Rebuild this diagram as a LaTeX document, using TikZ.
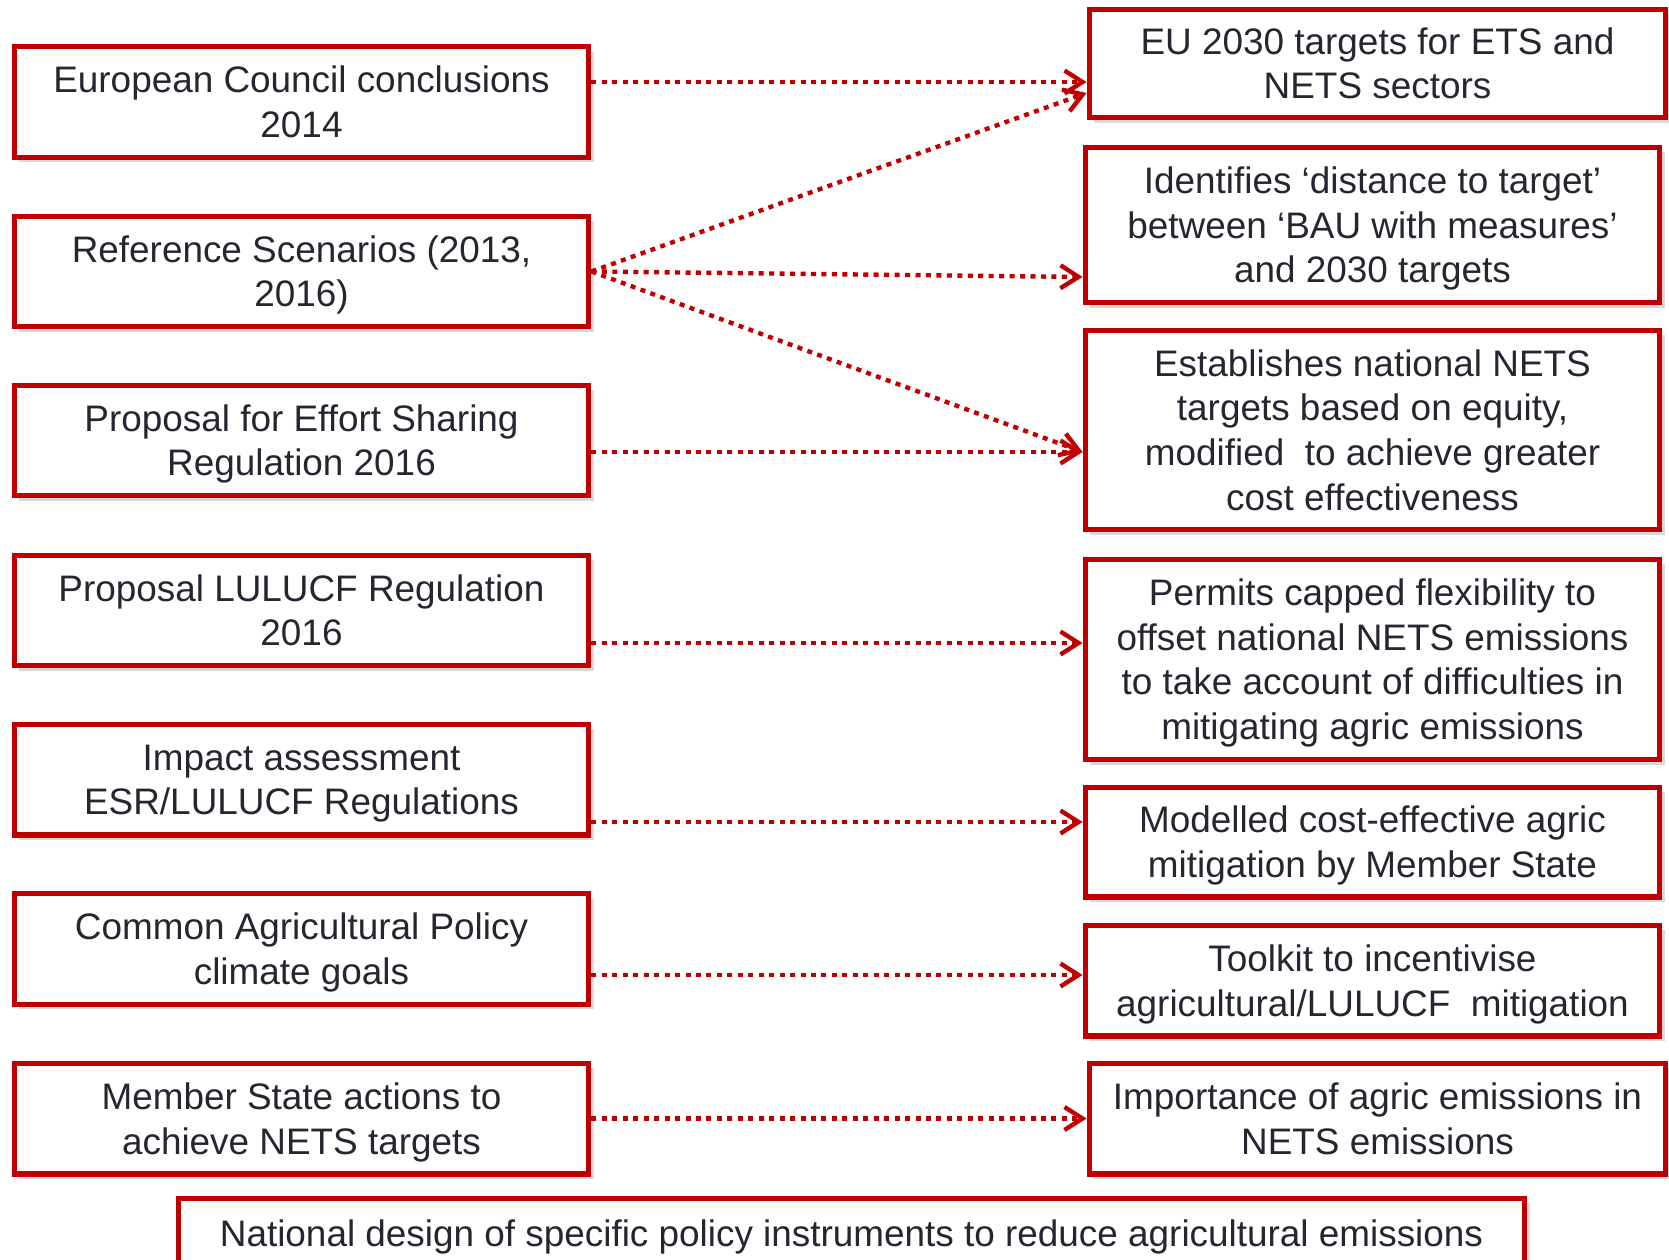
\documentclass[tikz,border=0pt]{standalone}
\usepackage{fontspec}
\setmainfont{Liberation Sans}
\usetikzlibrary{arrows.meta,shadows}
\definecolor{boxred}{RGB}{192,0,0}
\definecolor{inkgray}{RGB}{38,38,48}
\newcommand{\firstline}{\rule{0pt}{20pt}}
\newcommand{\lastline}{\rule[-5pt]{0pt}{5pt}}
\begin{document}
\begin{tikzpicture}[x=0.02cm, y=-0.02cm,
  box/.style={draw=boxred, line width=2.85pt, fill=white, text=inkgray, align=center,
    font=\fontsize{21}{25.4}\selectfont, inner sep=0pt,
    drop shadow={shadow xshift=1mm, shadow yshift=-1mm, opacity=0.25, fill=black!60}},
  leftbox/.style={box, minimum width=11.5cm, minimum height=2.22cm},
  rightbox/.style={box, minimum width=11.5cm},
  link/.style={draw=boxred, line width=2.5pt, dash pattern=on 2.85pt off 3.1pt,
    -{Straight Barb[length=3.6mm, width=4.6mm]}}]
\useasboundingbox (0,0) rectangle (1669,1260);
\clip (0,0) rectangle (1669,1260);

% left column
\node[leftbox] (council) at (301.5,102) {\firstline European Council conclusions\\2014\lastline};
\node[leftbox] (scenarios) at (301.5,271.5) {\firstline Reference Scenarios (2013,\\2016)\lastline};
\node[leftbox] (esrprop) at (301.5,440.5) {\firstline Proposal for Effort Sharing\\Regulation 2016\lastline};
\node[leftbox] (luluprop) at (301.5,610.5) {\firstline Proposal LULUCF Regulation\\2016\lastline};
\node[leftbox] (impact) at (301.5,779.5) {\firstline Impact assessment\\ESR/LULUCF Regulations\lastline};
\node[leftbox] (cap) at (301.5,949) {\firstline Common Agricultural Policy\\climate goals\lastline};
\node[leftbox] (msactions) at (301.5,1118.5) {\firstline Member State actions to\\achieve NETS targets\lastline};

% right column
\node[rightbox, minimum width=11.54cm, minimum height=2.18cm] (targets) at (1377.5,63.5) {\firstline EU 2030 targets for ETS and\\NETS sectors\lastline};
\node[rightbox, minimum height=3.12cm] (distance) at (1372.5,225) {\firstline Identifies ‘distance to target’\\between ‘BAU with measures’\\and 2030 targets\lastline};
\node[rightbox, minimum height=4cm] (equity) at (1372.5,430) {\firstline Establishes national NETS\\targets based on equity,\\modified\ \ to achieve greater\\cost effectiveness\lastline};
\node[rightbox, minimum height=4.02cm] (flex) at (1372.5,659.5) {\firstline Permits capped flexibility to\\offset national NETS emissions\\to take account of difficulties in\\mitigating agric emissions\lastline};
\node[rightbox, minimum height=2.2cm] (modelled) at (1372.5,842) {\firstline Modelled cost-effective agric\\mitigation by Member State\lastline};
\node[rightbox, minimum height=2.22cm] (toolkit) at (1372.5,980.5) {\firstline Toolkit to incentivise\\agricultural/LULUCF\ \ mitigation\lastline};
\node[rightbox, minimum width=11.54cm, minimum height=2.22cm] (importance) at (1377.5,1118.5) {\firstline Importance of agric emissions in\\NETS emissions\lastline};

% bottom bar, cut by the page edge
\node[box, minimum width=26.94cm, minimum height=1.4cm] (national) at (851.5,1233) {\firstline National design of specific policy instruments to reduce agricultural emissions\lastline};

% links
\draw[link] ([yshift=4mm]council.east) -- ([yshift=4mm]council.east -| targets.west);
\draw[link] (scenarios.east) -- ([yshift=-5.9mm]targets.west);
\draw[link] (scenarios.east) -- ([yshift=-10.4mm]distance.west);
\draw[link] (scenarios.east) -- ([yshift=-4.4mm]equity.west);
\draw[link] ([yshift=-2.3mm]esrprop.east) -- ([yshift=-2.3mm]esrprop.east -| equity.west);
\draw[link] ([yshift=-6.5mm]luluprop.east) -- ([yshift=-6.5mm]luluprop.east -| flex.west);
\draw[link] ([yshift=-8.5mm]impact.east) -- ([yshift=-8.5mm]impact.east -| modelled.west);
\draw[link] ([yshift=-5.2mm]cap.east) -- ([yshift=-5.2mm]cap.east -| toolkit.west);
\draw[link] (msactions.east) -- (msactions.east -| importance.west);

\end{tikzpicture}
\end{document}
